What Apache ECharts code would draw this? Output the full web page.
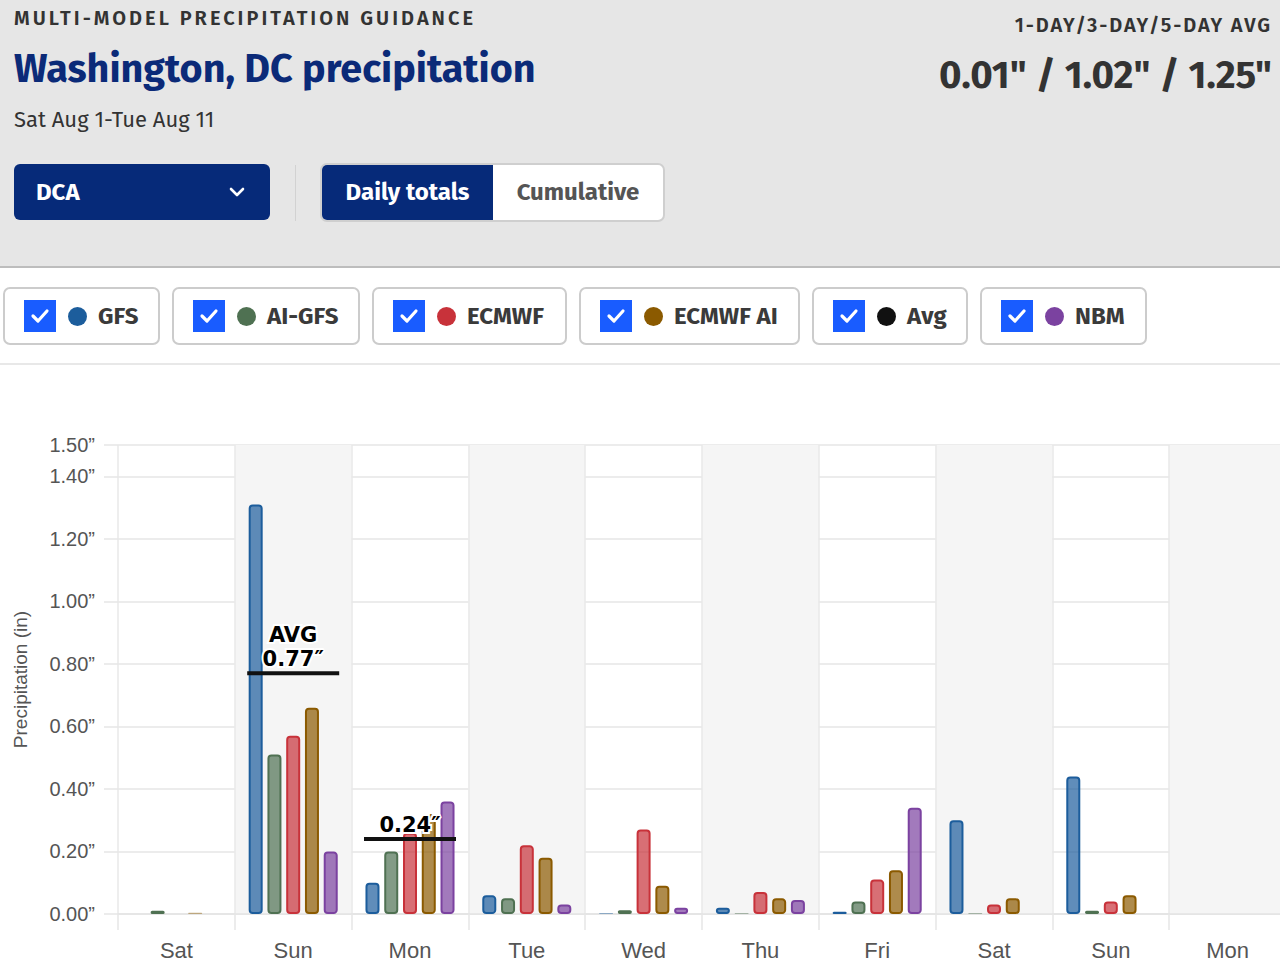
<!DOCTYPE html>
<html>
<head>
<meta charset="utf-8">
<title>Washington, DC precipitation</title>
<script src="https://cdn.jsdelivr.net/npm/echarts@6/dist/echarts.min.js"></script>
<style>
  html, body { margin: 0; padding: 0; width: 1280px; height: 970px; overflow: hidden; background: #fff; }
  body { position: relative; font-family: "Fira Sans", "Noto Sans", sans-serif; }
  .hdr { position: absolute; left: 0; top: 0; width: 1280px; height: 266px; background: #e6e6e6; border-bottom: 2px solid #bdbdbd; }
  .kicker { position: absolute; left: 14px; top: 6px; font-size: 20px; font-weight: 600; letter-spacing: 3px; color: #333; }
  .title { position: absolute; left: 14px; top: 45px; font-size: 39.5px; font-weight: 700; color: #0b2a78; }
  .sub { position: absolute; left: 14px; top: 106px; font-size: 22px; color: #333; }
  .dd { position: absolute; left: 14px; top: 164px; width: 256px; height: 56px; background: #062a79; border-radius: 6px; color: #fff; }
  .dd span { position: absolute; left: 22px; top: 0; line-height: 56px; font-size: 24px; font-weight: 700; }
  .dd svg { position: absolute; left: 214px; top: 19px; }
  .divider { position: absolute; left: 295px; top: 165px; width: 1px; height: 56px; background: #d2d2d2; }
  .toggle { position: absolute; left: 320px; top: 163px; width: 341px; height: 55px; border: 2px solid #cfcfcf; border-radius: 7px; overflow: hidden; background: #fff; }
  .toggle div { position: absolute; top: 0; height: 55px; line-height: 55px; text-align: center; font-size: 24px; font-weight: 700; }
  .toggle .on { left: 0; width: 171px; background: #062a79; color: #fff; }
  .toggle .off { left: 171px; width: 170px; color: #555; }
  .avgk { position: absolute; right: 8px; top: 13px; font-size: 20px; font-weight: 600; letter-spacing: 1.9px; color: #333; }
  .avgv { position: absolute; right: 8px; top: 52px; font-size: 38.5px; font-weight: 700; color: #333; }
  .legend { position: absolute; left: 3px; top: 287px; display: flex; gap: 12px; }
  .btn { position: relative; height: 54px; border: 2px solid #cccccc; border-radius: 7px; background: #fff; box-sizing: content-box; }
  .btn .cb { position: absolute; left: 19px; top: 11px; width: 32px; height: 32px; background: #195cff; }
  .btn .cb svg { position: absolute; left: 6px; top: 7px; }
  .btn .dot { position: absolute; left: 63px; top: 18px; width: 19px; height: 19px; border-radius: 50%; }
  .btn .lbl { position: absolute; left: 93px; top: 0; line-height: 54px; font-size: 24px; font-weight: 700; color: #3a3a3a; white-space: nowrap; }
  .rule { position: absolute; left: 0; top: 363px; width: 1280px; height: 2px; background: #e8e8e8; }
  #chart { position: absolute; left: 0; top: 380px; width: 1300px; height: 590px; }
</style>
</head>
<body>
<div class="hdr">
  <div class="kicker">MULTI-MODEL PRECIPITATION GUIDANCE</div>
  <div class="title">Washington, DC precipitation</div>
  <div class="sub">Sat Aug 1-Tue Aug 11</div>
  <div class="dd"><span>DCA</span>
    <svg width="18" height="18" viewBox="0 0 18 18"><polyline points="3,6 9,12 15,6" fill="none" stroke="#fff" stroke-width="2.6" stroke-linecap="round" stroke-linejoin="round"/></svg>
  </div>
  <div class="divider"></div>
  <div class="toggle"><div class="on">Daily totals</div><div class="off">Cumulative</div></div>
  <div class="avgk">1-DAY/3-DAY/5-DAY AVG</div>
  <div class="avgv">0.01" / 1.02" / 1.25"</div>
</div>
<div class="legend" id="legend"></div>
<div class="rule"></div>
<div id="chart"></div>
<script>
// days on the x axis
const days = ['Sat', 'Sun', 'Mon', 'Tue', 'Wed', 'Thu', 'Fri', 'Sat', 'Sun', 'Mon'];

// daily totals (in)
const gfs     = [0,     1.31, 0.10, 0.06, 0.003, 0.02,  0.007, 0.30,  0.44, null];
const aiGfs   = [0.01,  0.51, 0.20, 0.05, 0.012, 0.003, 0.04,  0.003, 0.01, null];
const ecmwf   = [0,     0.57, 0.26, 0.22, 0.27,  0.07,  0.11,  0.03,  0.04, null];
const ecmwfAi = [0.004, 0.66, 0.32, 0.18, 0.09,  0.05,  0.14,  0.05,  0.06, null];
const nbm     = [0,     0.20, 0.36, 0.03, 0.02,  0.045, 0.34,  null,  null, null];
const avg     = [null,  0.77, 0.24, null, null,  null,  null,  null,  null, null];

// y axis ticks
const yTicks = [0, 0.2, 0.4, 0.6, 0.8, 1.0, 1.2, 1.4, 1.5];

const models = [
  { name: 'GFS', color: '#1c5d9c', data: gfs, w: 153 },
  { name: 'AI-GFS', color: '#4f7152', data: aiGfs, w: 184 },
  { name: 'ECMWF', color: '#c8323a', data: ecmwf, w: 191 },
  { name: 'ECMWF AI', color: '#8b5a00', data: ecmwfAi, w: 217 },
  { name: 'Avg', color: '#111111', data: avg, w: 152 },
  { name: 'NBM', color: '#7b42a0', data: nbm, w: 163 }
];

// legend buttons
const legendEl = document.getElementById('legend');
models.forEach(m => {
  const b = document.createElement('div');
  b.className = 'btn';
  b.style.width = m.w + 'px';
  b.innerHTML = '<div class="cb"><svg width="20" height="18" viewBox="0 0 20 18"><polyline points="3,9 8,14 17,4" fill="none" stroke="#fff" stroke-width="3.2" stroke-linecap="round" stroke-linejoin="round"/></svg></div>' +
    '<div class="dot" style="background:' + m.color + '"></div><div class="lbl">' + m.name + '</div>';
  legendEl.appendChild(b);
});

function hexToRgba(hex, a) {
  const n = parseInt(hex.slice(1), 16);
  return 'rgba(' + (n >> 16) + ',' + ((n >> 8) & 255) + ',' + (n & 255) + ',' + a + ')';
}

const barSeries = models.filter(m => m.name !== 'Avg').map(m => ({
  name: m.name,
  type: 'bar',
  barWidth: 14,
  barGap: '34%',
  itemStyle: {
    color: hexToRgba(m.color, 0.7),
    borderColor: m.color,
    borderWidth: 2,
    borderRadius: 3
  },
  // very small totals show as a faint sliver without outline
  data: m.data.map(v => (v !== null && v < 0.005) ? { value: v, itemStyle: { borderWidth: 0, color: hexToRgba(m.color, 0.45) } } : v)
}));

const avgSeries = {
  name: 'Avg',
  type: 'scatter',
  symbol: 'rect',
  symbolSize: [92, 4],
  z: 5,
  itemStyle: { color: '#111', opacity: 1 },
  label: {
    show: true,
    position: 'top',
    distance: 0,
    color: '#000',
    fontFamily: 'DejaVu Sans',
    fontWeight: 'bold',
    fontSize: 21,
    lineHeight: 24,
    textBorderColor: '#fff',
    textBorderWidth: 4,
    formatter: p => (p.dataIndex === 1 ? 'AVG\n' : '') + p.value[1].toFixed(2) + '″'
  },
  data: avg.map((v, i) => v === null ? null : [i, v])
};

const chart = echarts.init(document.getElementById('chart'), null, { renderer: 'svg' });
chart.setOption({
  animation: false,
  grid: { left: 118, right: 14, top: 65, bottom: 56, outerBoundsMode: 'none', containLabel: false },
  xAxis: {
    type: 'category',
    data: days,
    axisLine: { lineStyle: { color: '#e3e3e3', width: 1.5 } },
    axisTick: { show: true, length: 16, lineStyle: { color: '#e6e6e6', width: 1.5 } },
    axisLabel: { color: '#555', fontSize: 22, fontFamily: 'Liberation Sans', margin: 25 },
    splitLine: { show: true, lineStyle: { color: '#e8e8e8', width: 1.5 } },
    splitArea: { show: true, areaStyle: { color: ['rgba(255,255,255,0)', '#f5f5f5'] } }
  },
  yAxis: {
    type: 'value',
    min: 0,
    max: 1.5,
    interval: 0.2,
    name: 'Precipitation (in)',
    nameLocation: 'middle',
    nameRotate: 90,
    nameGap: 88,
    nameTextStyle: { color: '#555', fontSize: 19, fontFamily: 'Liberation Sans' },
    axisLine: { show: false },
    axisTick: { show: true, length: 14, lineStyle: { color: '#e6e6e6', width: 1.5 } },
    axisLabel: {
      color: '#555', fontSize: 20, fontFamily: 'Liberation Sans', margin: 23,
      customValues: yTicks,
      formatter: v => v.toFixed(2) + '”'
    },
    splitLine: { lineStyle: { color: '#e6e6e6', width: 1.5 } }
  },
  series: [...barSeries, avgSeries]
});
</script>
</body>
</html>
